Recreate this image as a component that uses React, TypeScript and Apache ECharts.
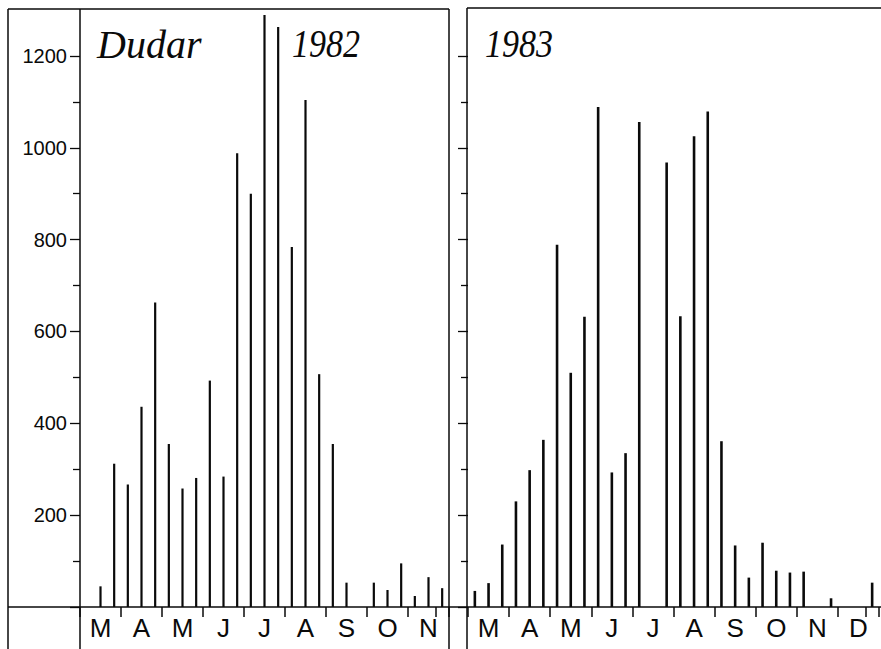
import React, { useEffect, useRef } from 'react';
import * as echarts from 'echarts';

// ---- data ----
const months1982 = ['M', 'A', 'M', 'J', 'J', 'A', 'S', 'O', 'N'];
const months1983 = ['M', 'A', 'M', 'J', 'J', 'A', 'S', 'O', 'N', 'D'];
const decadesPerMonth = 3;
// one value per ten-day period, March .. November 1982
const values1982 = [0, 45, 312, 267, 436, 663, 355, 258, 281, 493, 284, 988, 900, 1289, 1263, 784, 1104, 507, 355, 53, 0, 53, 37, 95, 24, 65, 41];
// one value per ten-day period, March .. December 1983
const values1983 = [35, 52, 136, 230, 298, 364, 789, 510, 632, 1089, 293, 335, 1056, 0, 968, 633, 1025, 1079, 361, 134, 64, 140, 79, 75, 77, 0, 19, 0, 0, 53];
const yLabelValues = [200, 400, 600, 800, 1000, 1200];
const yMajorTicks = [0, 200, 400, 600, 800, 1000, 1200];
const yMinorTicks = [100, 300, 500, 700, 900, 1100];
const yMax = 1300;
const titleLocation = 'Dudar';
const year1 = '1982';
const year2 = '1983';

const buildCategories = (months: string[]) =>
  months.flatMap((m, mi) => Array.from({ length: decadesPerMonth }, (_, d) => `${m}${mi}-${d + 1}`));

// ---- layout ----
const INK = '#0a0a0a';
const LG = { left: 80, top: 10, width: 369, height: 597 };
const RG = { left: 468, top: 10, width: 411, height: 597 };
const FR = { outer: 8, top: 9, bottom: 649, right: 881, midBorder: 449, rAxis: 467, rTop: 8 };

export default function App() {
  const ref = useRef<HTMLDivElement>(null);
  useEffect(() => {
    document.body.style.margin = '0';
    document.body.style.overflow = 'hidden';
    const chart = echarts.init(ref.current!, null, { renderer: 'svg' });

    const xAxis = (gridIndex: number, months: string[]) => ({
      type: 'category',
      gridIndex,
      data: buildCategories(months),
      boundaryGap: true,
      axisLine: { show: false },
      axisTick: { show: true, interval: decadesPerMonth - 1, length: 10, lineStyle: { color: INK, width: 1.5 } },
      axisLabel: {
        interval: 0,
        formatter: (_v: string, i: number) => (i % decadesPerMonth === 1 ? months[Math.floor(i / decadesPerMonth)] : ''),
        fontSize: 26,
        fontFamily: 'Liberation Sans',
        color: INK,
        margin: 8,
      },
      splitLine: { show: false },
    });

    const yAxis = (gridIndex: number, major: boolean, labels: boolean) => ({
      type: 'value',
      gridIndex,
      min: 0,
      max: yMax,
      interval: 100,
      position: 'left',
      axisLine: { show: false },
      axisTick: {
        show: true,
        customValues: major ? yMajorTicks : yMinorTicks,
        length: major ? 10 : 7,
        lineStyle: { color: INK, width: 1.3 },
      },
      axisLabel: {
        show: major && labels,
        customValues: yLabelValues,
        formatter: (v: number) => String(v),
        fontSize: 20,
        fontFamily: 'Liberation Sans',
        color: INK,
        margin: 13,
      },
      splitLine: { show: false },
    });

    const line = (x1: number, y1: number, x2: number, y2: number) => ({
      type: 'line',
      shape: { x1, y1, x2, y2 },
      style: { stroke: INK, lineWidth: 1.5 },
      silent: true,
    });

    const titleFont = 'italic 40px "Liberation Serif"';

    chart.setOption({
      animation: false,
      backgroundColor: '#fff',
      grid: [
        { ...LG, containLabel: false },
        { ...RG, containLabel: false },
      ],
      xAxis: [xAxis(0, months1982), xAxis(1, months1983)],
      yAxis: [yAxis(0, true, true), yAxis(0, false, false), yAxis(1, true, false), yAxis(1, false, false)],
      series: [
        { type: 'bar', xAxisIndex: 0, yAxisIndex: 0, data: values1982, barWidth: 2.2, itemStyle: { color: INK } },
        { type: 'bar', xAxisIndex: 1, yAxisIndex: 2, data: values1983, barWidth: 2.6, itemStyle: { color: INK } },
      ],
      graphic: [
        line(FR.outer, FR.top, FR.outer, FR.bottom),
        line(FR.outer, FR.top, FR.midBorder, FR.top),
        line(LG.left, FR.top, LG.left, FR.bottom),
        line(FR.midBorder, FR.top, FR.midBorder, FR.bottom),
        line(FR.rAxis, FR.rTop, FR.rAxis, FR.bottom),
        line(FR.rAxis, FR.rTop, FR.right, FR.rTop),
        line(FR.outer, LG.top + LG.height, FR.right, LG.top + LG.height),
        { type: 'text', x: 97, y: 24, style: { text: titleLocation, font: titleFont, fill: INK, verticalAlign: 'top' } },
        { type: 'text', x: 292, y: 24, scaleX: 0.85, style: { text: year1, font: titleFont, fill: INK, verticalAlign: 'top' } },
        { type: 'text', x: 485, y: 24, scaleX: 0.85, style: { text: year2, font: titleFont, fill: INK, verticalAlign: 'top' } },
      ],
    });
    return () => chart.dispose();
  }, []);
  return <div ref={ref} style={{ width: 881, height: 649 }} />;
}
